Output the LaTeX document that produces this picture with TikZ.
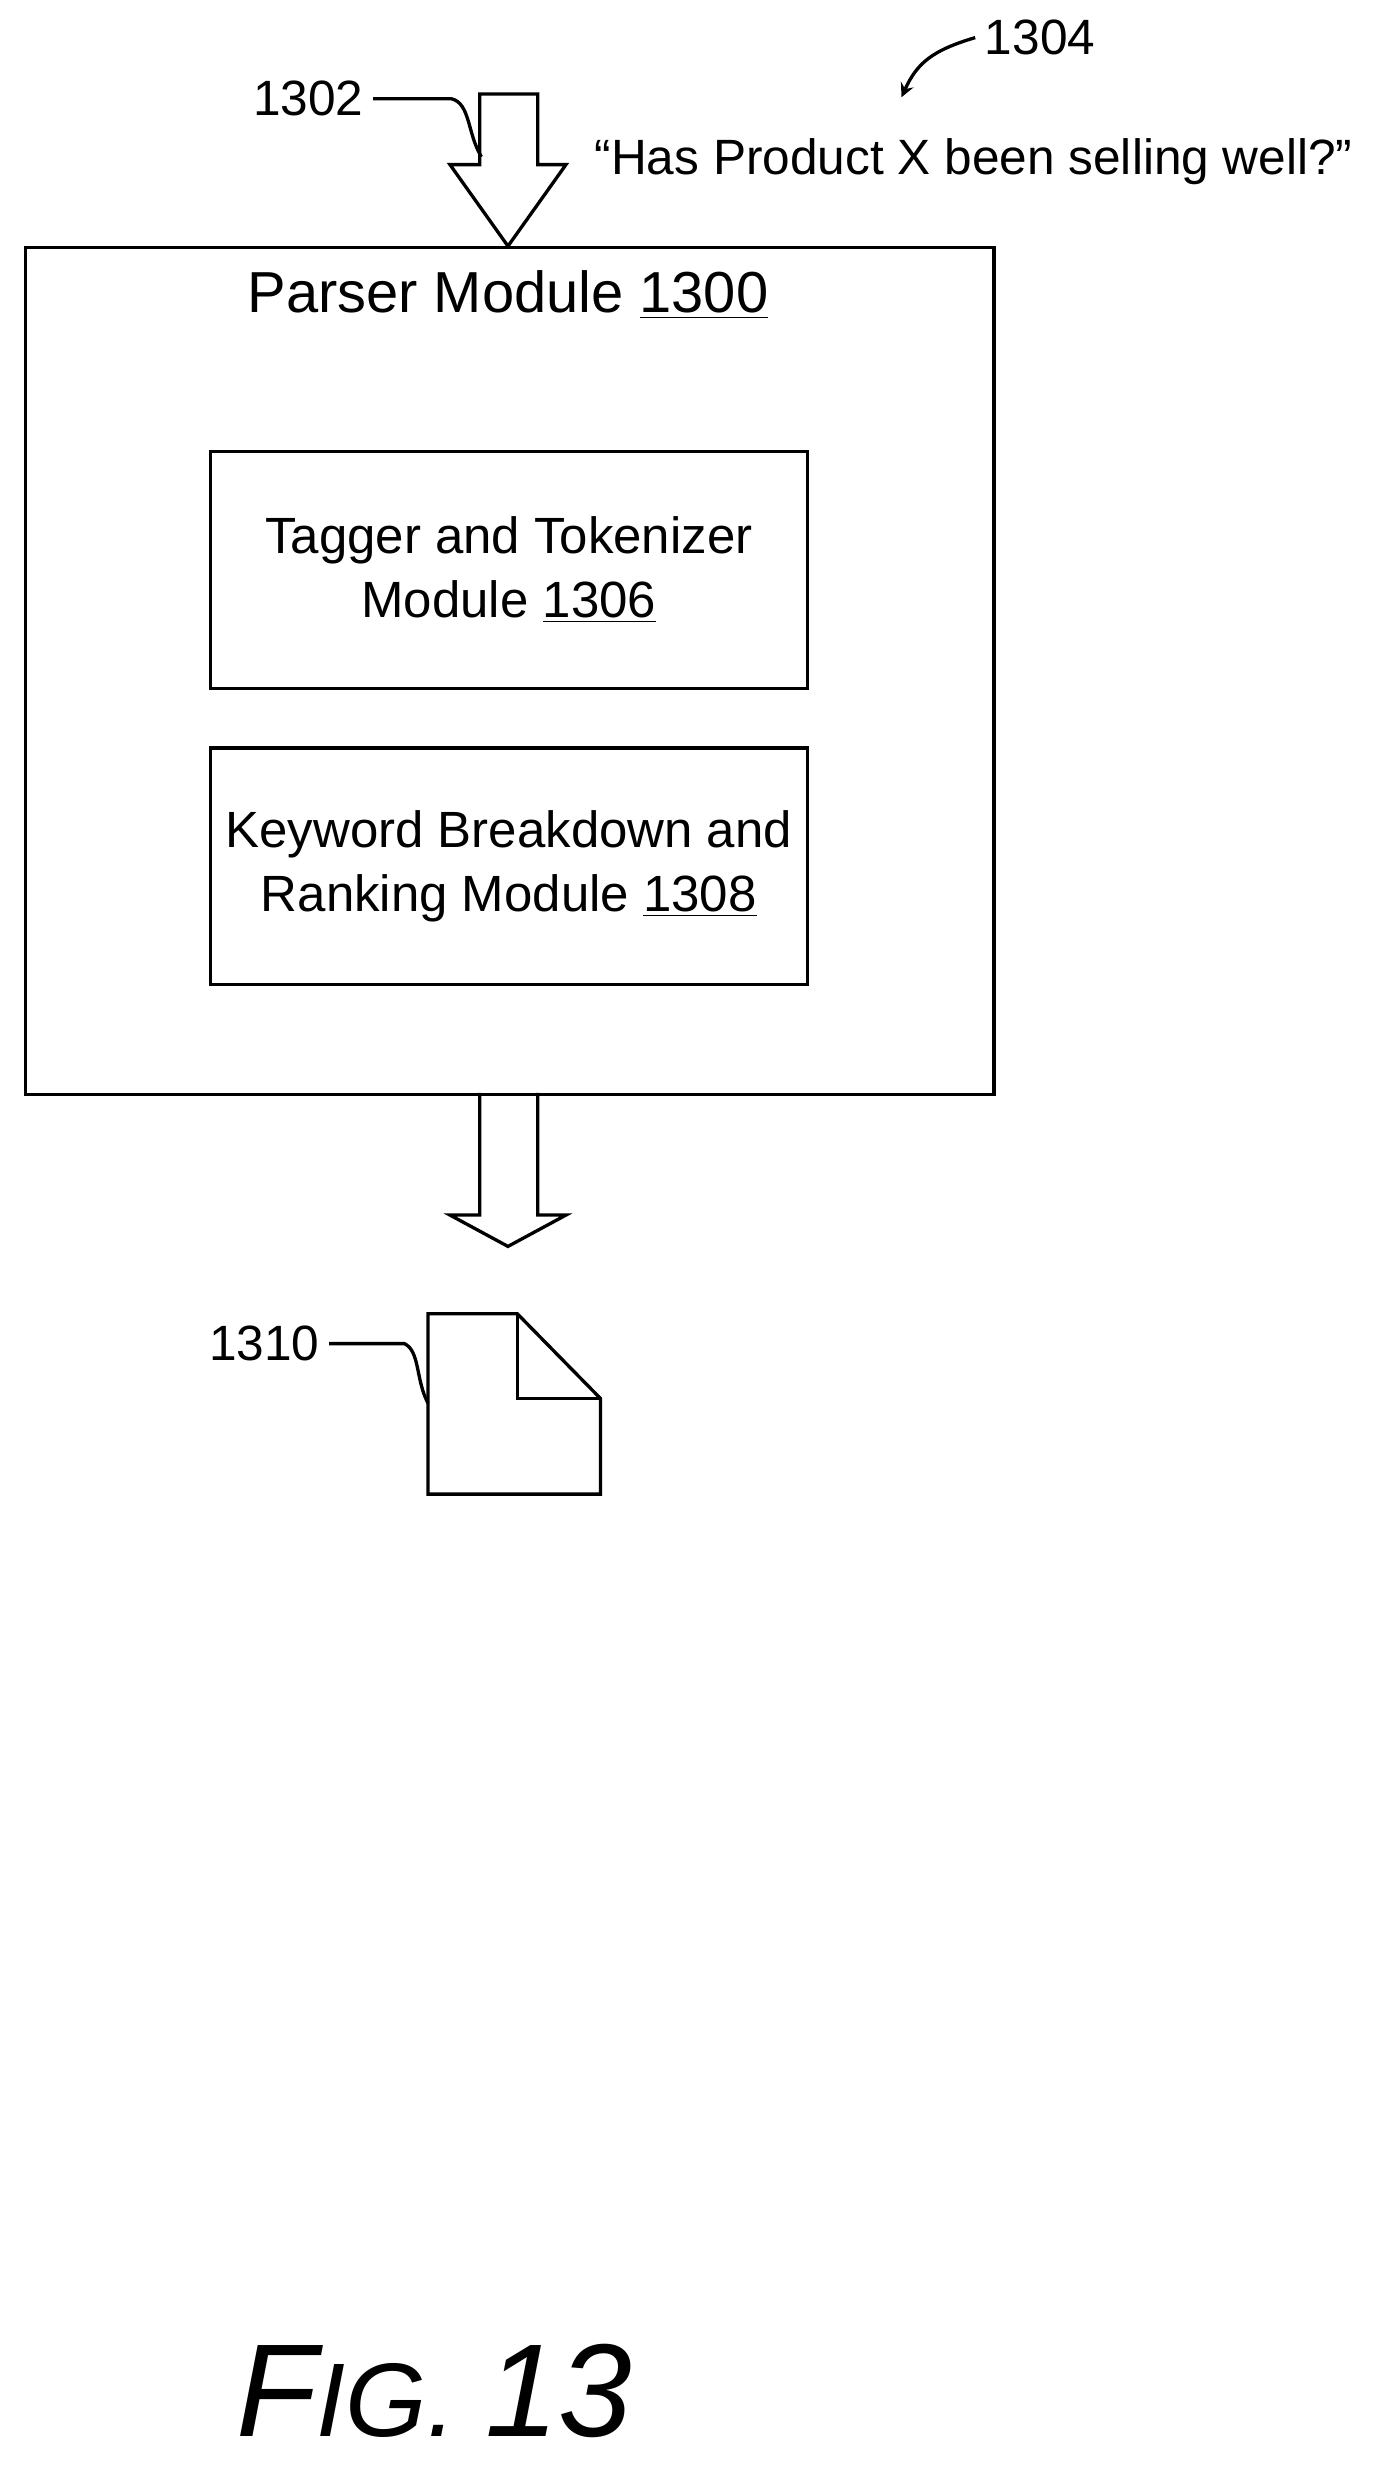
\documentclass[tikz,border=0pt]{standalone}
\usepackage{fontspec}
\setmainfont{Liberation Sans}
\usetikzlibrary{positioning}
\tikzset{
  box/.style={draw, line width=1.2pt, align=center, font=\fontsize{18.5}{23}\selectfont},
  lbl/.style={font=\fontsize{18}{22}\selectfont},
  lead/.style={line width=1.2pt},
  bigarrow/.style={draw, line width=1.2pt, fill=white}
}
\begin{document}
\begin{tikzpicture}[x=0.02cm,y=-0.02cm]
  \useasboundingbox (0,0) rectangle (880,1578);

  % Parser module
  \node[box, minimum width=618*0.02cm, minimum height=540*0.02cm, anchor=north west] (parser) at (15,157) {};
  \node[lbl, font=\fontsize{21}{25}\selectfont] (title) at (324,188) {Parser Module \underline{1300}};

  % inner modules
  \node[box, minimum width=381*0.02cm, minimum height=151*0.02cm, anchor=north west] (tagger) at (133,287)
    {Tagger and Tokenizer\\Module \underline{1306}};
  \node[box, minimum width=381*0.02cm, minimum height=151*0.02cm, anchor=north west] (keyword) at (133,476)
    {Keyword Breakdown and\\Ranking Module \underline{1308}};

  % input and output arrows
  \draw[bigarrow] (306,60) -- (343,60) -- (343,105) -- (361,105) -- (324,157) -- (287,105) -- (306,105) -- cycle;
  \draw[lead] (306,697) -- (306,775) -- (287,775) -- (324,795) -- (361,775) -- (343,775) -- (343,697);

  % query text
  \node[lbl] (query) at (621,103) {\char"201C Has Product X been selling well?\char"201D};
  \node[lbl, anchor=west] (n1304) at (622,24) {1304};
  \draw[lead, ->, >=stealth] (n1304.west) .. controls (595,32) and (585,40) .. (575,62);

  % input label
  \node[lbl, anchor=east] (n1302) at (238,63) {1302};
  \coordinate (in) at (307,100);
  \draw[lead] (n1302.east) -- ++(50,0) .. controls (300,66) and (298,85) .. (in);

  % output document
  \draw[lead, fill=white] (273,838) -- (330,838) -- (383,892) -- (383,953) -- (273,953) -- cycle;
  \draw[lead] (330,838) -- (330,892) -- (383,892);
  \node[lbl, anchor=east] (n1310) at (210,857) {1310};
  \coordinate (doc) at (273,895);
  \draw[lead] (n1310.east) -- ++(48,0) .. controls (268,862) and (265,880) .. (doc);

  % figure label
  \node[font=\itshape\fontsize{48}{56}\selectfont] (fig) at (277,1525) {F\fontsize{38}{44}\selectfont IG. \fontsize{48}{56}\selectfont 13};
\end{tikzpicture}
\end{document}
